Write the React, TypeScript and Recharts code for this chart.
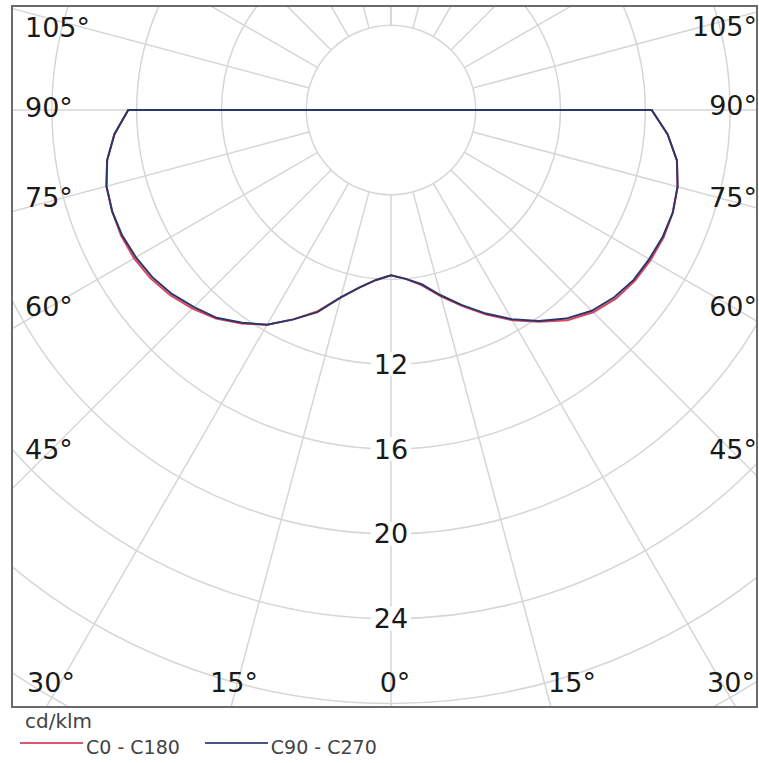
import React from 'react';
import { RadarChart, Radar, PolarGrid, PolarAngleAxis, PolarRadiusAxis } from 'recharts';

// gamma angles, negative = C180 / C270 half (left), positive = C0 / C90 half (right)
const gammaAngles = [
  -90, -85, -80, -75, -70, -65, -60, -55, -50, -45, -40, -35, -30, -25, -20, -15, -10, -5,
  0, 5, 10, 15, 20, 25, 30, 35, 40, 45, 50, 55, 60, 65, 70, 75, 80, 85, 90,
];

// cd/klm
const c0c180 = [
  12.4, 13.1, 13.6, 13.9, 14.0, 14.05, 14.0, 13.85, 13.6, 13.25, 12.85, 12.3, 11.7, 10.9, 10.1, 9.15, 8.5, 8.05,
  7.8, 8.0, 8.4, 9.1, 9.85, 10.65, 11.45, 12.2, 12.95, 13.5, 13.85, 14.05, 14.15, 14.2, 14.15, 14.0, 13.7, 13.1, 12.3,
];
const c90c270 = [
  12.4, 13.1, 13.6, 13.9, 14.0, 14.0, 13.9, 13.75, 13.5, 13.15, 12.8, 12.25, 11.7, 10.9, 10.15, 9.15, 8.5, 8.05,
  7.8, 8.0, 8.35, 9.05, 9.8, 10.6, 11.4, 12.15, 12.85, 13.4, 13.75, 13.98, 14.07, 14.15, 14.15, 14.0, 13.7, 13.1, 12.3,
];

const seriesNames = ['C0 - C180', 'C90 - C270'];
const seriesKeys = ['c0', 'c90'];
const seriesColors = ['#e0465f', '#2a3768'];
const legendColors = ['#d9566e', '#4b5684'];

const radiusDomain = [4, 36];
const radiusLabels = [12, 16, 20, 24];
const unitLabel = 'cd/klm';

const leftLabels = ['105°', '90°', '75°', '60°', '45°'];
const rightLabels = ['105°', '90°', '75°', '60°', '45°'];
const bottomLabels = ['30°', '15°', '0°', '15°', '30°'];

const data = gammaAngles.map((g, i) => ({ gamma: g, c0: c0c180[i], c90: c90c270[i] }));

const FONT = '"DejaVu Sans", Verdana, sans-serif';

const RadiusTick = (props: any) => {
  const { x, y, payload } = props;
  if (!radiusLabels.includes(payload.value)) return <g />;
  return (
    <g>
      <rect x={x - 20} y={y - 12} width={40} height={24} fill="#fff" />
      <text x={x} y={y} textAnchor="middle" dominantBaseline="central" fontSize={27} fill="#1a1a1a" fontFamily={FONT}>
        {payload.value}
      </text>
    </g>
  );
};

export default function App() {
  const leftY = [27, 107, 197, 306, 449];
  const rightY = [26, 105, 197, 306, 449];
  const bottomX = [51, 234, 395, 572, 731];

  const lbl: React.CSSProperties = {
    position: 'absolute',
    fontSize: 27,
    lineHeight: '27px',
    color: '#1a1a1a',
    whiteSpace: 'nowrap',
  };

  return (
    <div style={{ position: 'absolute', left: 0, top: 0, width: 759, height: 763, background: '#fff', fontFamily: FONT }}>
      <div
        style={{
          position: 'absolute',
          left: 11,
          top: 5,
          width: 747,
          height: 703,
          border: '2px solid #6a6a6a',
          boxSizing: 'border-box',
          overflow: 'hidden',
        }}
      >
        <RadarChart
          width={743}
          height={699}
          data={data}
          cx={378}
          cy={103}
          innerRadius={84.75}
          outerRadius={763}
          startAngle={90}
          endAngle={450}
          margin={{ top: 0, right: 0, bottom: 0, left: 0 }}
        >
          <PolarGrid gridType="circle" stroke="#d6d6d6" strokeWidth={1.5} />
          <PolarAngleAxis
            dataKey="gamma"
            type="number"
            domain={[-180, 180]}
            tickCount={25}
            tick={false}
            axisLine={false}
            tickLine={false}
          />
          <PolarRadiusAxis
            type="number"
            domain={radiusDomain}
            allowDataOverflow
            tickCount={9}
            angle={270}
            axisLine={false}
            tickLine={false}
            tick={<RadiusTick />}
          />
          {seriesKeys.map((k, i) => (
            <Radar
              key={k}
              dataKey={k}
              name={seriesNames[i]}
              stroke={seriesColors[i]}
              strokeWidth={2}
              fill="none"
              fillOpacity={0}
              dot={false}
              isAnimationActive={false}
            />
          ))}
        </RadarChart>
      </div>

      {leftLabels.map((t, i) => (
        <div key={'l' + i} style={{ ...lbl, left: 25, top: leftY[i] - 13.5 }}>
          {t}
        </div>
      ))}
      {rightLabels.map((t, i) => (
        <div key={'r' + i} style={{ ...lbl, right: 2, top: rightY[i] - 13.5 }}>
          {t}
        </div>
      ))}
      {bottomLabels.map((t, i) => (
        <div
          key={'b' + i}
          style={{ ...lbl, left: bottomX[i], top: 682 - 13.5, transform: 'translateX(-50%)' }}
        >
          {t}
        </div>
      ))}

      <div style={{ position: 'absolute', left: 25, top: 710, fontSize: 20, lineHeight: '22px', color: '#444' }}>
        {unitLabel}
      </div>
      <div style={{ position: 'absolute', left: 20, top: 736, display: 'flex', alignItems: 'center', fontSize: 19, color: '#444' }}>
        {seriesNames.map((n, i) => (
          <div key={n} style={{ display: 'flex', alignItems: 'center', marginRight: i === 0 ? 25 : 0 }}>
            <div style={{ width: 63, height: 2, background: legendColors[i], marginTop: -8 }} />
            <span style={{ marginLeft: 3, lineHeight: '22px' }}>{n}</span>
          </div>
        ))}
      </div>
    </div>
  );
}
